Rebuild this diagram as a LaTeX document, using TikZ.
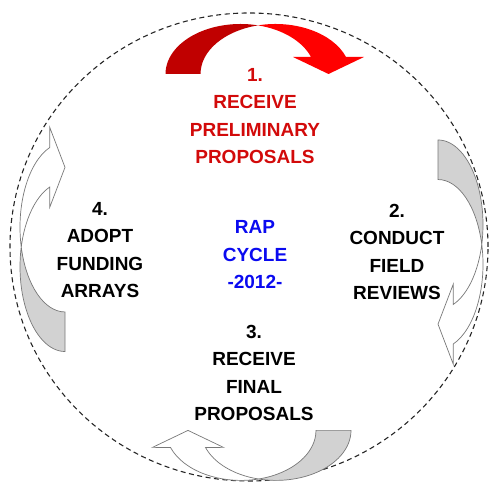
\documentclass[tikz,border=0pt]{standalone}
\usepackage{fontspec}
\setmainfont{Liberation Sans}
\definecolor{rapred}{RGB}{210,10,10}
\definecolor{rapdarkred}{RGB}{192,0,0}
\definecolor{rapbrightred}{RGB}{255,0,0}
\definecolor{rapblue}{RGB}{10,10,240}
\definecolor{rapgray}{RGB}{210,210,210}
\definecolor{rapedge}{RGB}{120,120,120}
\begin{document}
\begin{tikzpicture}[x=1pt, y=1pt, thick]
        \tikzset{
            stage/.style   = {align=center, font=\bfseries\fontsize{19}{27.5}\selectfont},
            backred/.style = {fill=rapdarkred},
            frontred/.style= {fill=rapbrightred},
            backgray/.style= {fill=rapgray, draw=rapedge, line width=0.7pt},
            frontwhite/.style = {fill=white, draw=rapedge, line width=0.7pt},
            pics/cyclearrow/.style 2 args = {code = {
                % back band
                \path[#1] (-92.5,0) arc[start angle=180, end angle=76.5, x radius=75, y radius=50]
                    arc[start angle=103.5, end angle=180, x radius=75, y radius=50] -- cycle;
                % front band with head
                \path[#2] ([shift={(17.5,0)}]103.5:75 and 50)
                    arc[start angle=103.5, end angle=19.9, x radius=75, y radius=50]
                    -- (106,17) -- (70.5,0) -- (35,17)
                    -- ([shift={(-17.5,0)}]19.9:75 and 50)
                    arc[start angle=19.9, end angle=76.5, x radius=75, y radius=50] -- cycle;
            }}
        }
        \useasboundingbox (0,0) rectangle (492,486);

        \draw[line width=1.1pt, dash pattern=on 5pt off 3.5pt, black!85]
            (249,239) ellipse[x radius=239, y radius=234];

        \pic at (258,412) {cyclearrow={backred}{frontred}};
        \pic[rotate=-90, xscale=1.13, yscale=0.9] at (438,241.5) {cyclearrow={backgray}{frontwhite}};
        \pic[rotate=180] at (258.5,55.6) {cyclearrow={backgray}{frontwhite}};
        \pic[rotate=90, xscale=1.13, yscale=0.9] at (65,239) {cyclearrow={backgray}{frontwhite}};

        \node[stage, text=rapred] (S1) at (255,370) {1.\\RECEIVE\\PRELIMINARY\\PROPOSALS};
        \node[stage] (S2) at (397,234) {2.\\CONDUCT\\FIELD\\REVIEWS};
        \node[stage] (S3) at (254,113) {3.\\RECEIVE\\FINAL\\PROPOSALS};
        \node[stage] (S4) at (100,236) {4.\\ADOPT\\FUNDING\\ARRAYS};
        \node[stage, text=rapblue] (CYC) at (255,231) {RAP\\CYCLE\\-2012-};
    \end{tikzpicture}
\end{document}
